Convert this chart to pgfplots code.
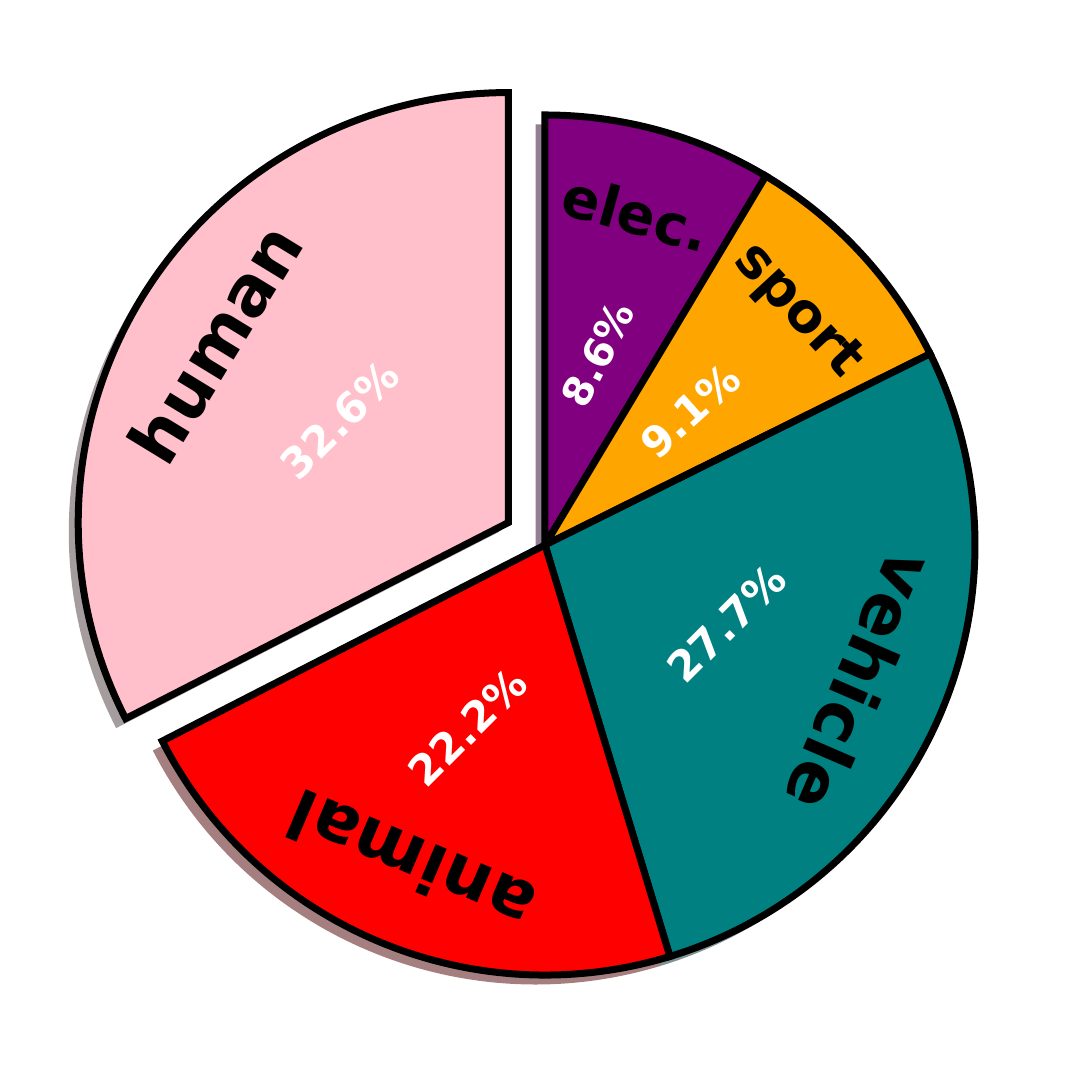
\documentclass[border=0pt]{standalone}
\usepackage{pgfplots}
\pgfplotsset{compat=1.18}
\usepackage{fontspec}
\setmainfont{DejaVu Sans}

\definecolor{cElec}{RGB}{128,0,128}
\definecolor{cSport}{RGB}{255,165,0}
\definecolor{cVeh}{RGB}{0,128,128}
\definecolor{cAni}{RGB}{255,0,0}
\definecolor{cHum}{RGB}{255,192,203}

% share / colour / label / label size (pt) / pct rotation / pct size / explode
\def\piedata{8.6/cElec/elec./16/63/11.5/0,
  9.1/cSport/sport/15.5/42/12/0,
  27.7/cVeh/vehicle/19.5/45/12/0,
  22.2/cAni/animal/19.5/45/12/0,
  32.6/cHum/human/19.5/45/12/0.1}
\def\total{100.2}
\def\R{4.3cm}

\begin{document}
\begin{tikzpicture}
  \begin{axis}[
    hide axis,
    scale only axis,
    x=4.3cm, y=4.3cm,
    xmin=-1.2674, xmax=1.2674,
    ymin=-1.2674, ymax=1.2674,
    clip=false
  ]
    \pgfplotsextra{
      \path (axis cs:-1.2674,-1.2674) rectangle (axis cs:1.2674,1.2674);
      % shadows
      \xdef\curA{90}
      \foreach \v/\col/\lab/\fs/\pr/\ps/\ex in \piedata {
        \pgfmathsetmacro\aS{\curA}
        \pgfmathsetmacro\aE{\curA-\v*360/\total}
        \pgfmathsetmacro\mid{(\aS+\aE)/2}
        \pgfmathsetmacro\cx{\ex*cos(\mid)-0.022}
        \pgfmathsetmacro\cy{\ex*sin(\mid)-0.022}
        \fill[\col!30!black, fill opacity=0.5]
          (axis cs:\cx,\cy) -- ++(\aS:\R) arc[start angle=\aS, end angle=\aE, radius=\R] -- cycle;
        \xdef\curA{\aE}
      }
      % wedges
      \xdef\curA{90}
      \foreach \v/\col/\lab/\fs/\pr/\ps/\ex in \piedata {
        \pgfmathsetmacro\aS{\curA}
        \pgfmathsetmacro\aE{\curA-\v*360/\total}
        \pgfmathsetmacro\mid{(\aS+\aE)/2}
        \pgfmathsetmacro\cx{\ex*cos(\mid)}
        \pgfmathsetmacro\cy{\ex*sin(\mid)}
        \filldraw[fill=\col, draw=black, line width=0.07cm, line join=miter]
          (axis cs:\cx,\cy) -- ++(\aS:\R) arc[start angle=\aS, end angle=\aE, radius=\R] -- cycle;
        \xdef\curA{\aE}
      }
      % texts
      \xdef\curA{90}
      \foreach \v/\col/\lab/\fs/\pr/\ps/\ex in \piedata {
        \pgfmathsetmacro\aS{\curA}
        \pgfmathsetmacro\aE{\curA-\v*360/\total}
        \pgfmathsetmacro\mid{(\aS+\aE)/2}
        \pgfmathsetmacro\lx{(\ex+0.8)*cos(\mid)}
        \pgfmathsetmacro\ly{(\ex+0.8)*sin(\mid)}
        \pgfmathsetmacro\px{(\ex+0.46)*cos(\mid)}
        \pgfmathsetmacro\py{(\ex+0.46)*sin(\mid)}
        \pgfmathsetmacro\rot{\mid-90}
        \node[rotate=\rot, inner sep=0pt, text=black,
          font=\fontsize{\fs}{\fs}\selectfont\bfseries] at (axis cs:\lx,\ly) {\lab};
        \node[rotate=\pr, inner sep=0pt, text=white,
          font=\fontsize{\ps}{\ps}\selectfont\bfseries] at (axis cs:\px,\py) {\v\%};
        \xdef\curA{\aE}
      }
    }
  \end{axis}
\end{tikzpicture}
\end{document}
